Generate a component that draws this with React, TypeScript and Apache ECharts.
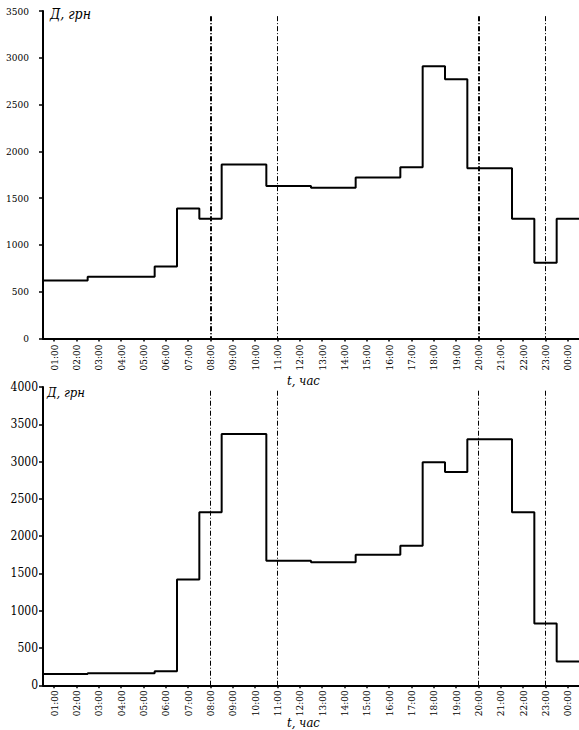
import React, { useEffect, useRef } from "react";
import * as echarts from "echarts";

const hours = [
  "01:00", "02:00", "03:00", "04:00", "05:00", "06:00", "07:00", "08:00",
  "09:00", "10:00", "11:00", "12:00", "13:00", "14:00", "15:00", "16:00",
  "17:00", "18:00", "19:00", "20:00", "21:00", "22:00", "23:00", "00:00",
];

const topValues = [
  620, 620, 660, 660, 660, 770, 1390, 1280, 1860, 1860, 1630, 1630,
  1610, 1610, 1720, 1720, 1830, 2910, 2770, 1820, 1820, 1280, 810, 1280,
];

const bottomValues = [
  150, 150, 160, 160, 160, 190, 1420, 2320, 3370, 3370, 1670, 1670,
  1650, 1650, 1750, 1750, 1870, 2990, 2860, 3300, 3300, 2320, 830, 320,
];

const topMarkers = ["08:00", "11:00", "20:00", "23:00"];
const topMarkerWidths = [2, 1, 2, 1];
const topMarkerEnd = 3445;
const bottomMarkers = ["08:00", "11:00", "20:00", "23:00"];
const bottomMarkerEnd = 3950;

const topYMax = 3500;
const bottomYMax = 4000;
const yInterval = 500;

const FONT = "DejaVu Serif Condensed";

function stepData(values: number[]) {
  const out: number[][] = [];
  values.forEach((v, i) => {
    out.push([i, v]);
    out.push([i + 1, v]);
  });
  return out;
}

function markerLines(markers: string[], widths: number[], end: number) {
  return markers.map((h, k) => {
    const c = hours.indexOf(h) + 0.5;
    return [
      { coord: [c, end], lineStyle: { width: widths[k] } },
      { coord: [c, 0] },
    ];
  });
}

export default function App() {
  const ref = useRef<HTMLDivElement>(null);
  useEffect(() => {
    if (!ref.current) return;
    const chart = echarts.init(ref.current, undefined, { renderer: "svg" });
    const catAxis = (gridIndex: number, margin: number) => ({
      type: "category",
      gridIndex,
      data: hours,
      boundaryGap: true,
      axisLine: { show: true, onZero: false, lineStyle: { color: "#000", width: 2 } },
      axisTick: { show: true, alignWithLabel: true, interval: 0, length: 3, lineStyle: { color: "#000", width: 1.5 } },
      axisLabel: {
        interval: 0,
        rotate: 90,
        margin,
        color: "#000",
        fontFamily: FONT,
        fontSize: 10,
      },
      splitLine: { show: false },
    });
    const valXAxis = (gridIndex: number) => ({
      type: "value",
      gridIndex,
      min: 0,
      max: 24,
      show: false,
    });
    const yAxis = (gridIndex: number, max: number, fontSize: number, margin: number) => ({
      type: "value",
      gridIndex,
      min: 0,
      max,
      interval: yInterval,
      axisLine: { show: true, lineStyle: { color: "#000", width: 2 } },
      axisTick: { show: true, length: 4, lineStyle: { color: "#000", width: 1.5 } },
      axisLabel: {
        color: "#000",
        fontFamily: FONT,
        fontSize,
        margin,
        formatter: (v: number) => String(v),
      },
      splitLine: { show: false },
    });
    const markLineBase = {
      silent: true,
      symbol: ["none", "none"],
      label: { show: false },
      lineStyle: { color: "#000", type: [5, 2, 1, 2], width: 1 },
    };
    chart.setOption({
      animation: false,
      backgroundColor: "#fff",
      textStyle: { fontFamily: FONT },
      grid: [
        { left: 43, top: 11, width: 541.7, height: 327.5 },
        { left: 43, top: 387, width: 540, height: 298.3 },
      ],
      xAxis: [catAxis(0, 6), valXAxis(0), catAxis(1, 5), valXAxis(1)],
      yAxis: [yAxis(0, topYMax, 10, 14), yAxis(1, bottomYMax, 12, 5)],
      series: [
        {
          type: "line",
          xAxisIndex: 1,
          yAxisIndex: 0,
          data: stepData(topValues),
          symbol: "none",
          lineStyle: { color: "#000", width: 2 },
          markLine: {
            ...markLineBase,
            data: markerLines(topMarkers, topMarkerWidths, topMarkerEnd),
          },
        },
        {
          type: "line",
          xAxisIndex: 3,
          yAxisIndex: 1,
          data: stepData(bottomValues),
          symbol: "none",
          lineStyle: { color: "#000", width: 2 },
          markLine: {
            ...markLineBase,
            data: markerLines(bottomMarkers, [1, 1, 1, 1], bottomMarkerEnd),
          },
        },
      ],
      graphic: [
        {
          type: "text",
          left: 50,
          top: 7,
          style: { text: "Д, грн", fontFamily: FONT, fontStyle: "italic", fontSize: 14, fill: "#000" },
        },
        {
          type: "text",
          left: 287,
          top: 374,
          style: { text: "t, час", fontFamily: FONT, fontStyle: "italic", fontSize: 13, fill: "#000" },
        },
        {
          type: "text",
          left: 47,
          top: 386,
          style: { text: "Д, грн", fontFamily: FONT, fontStyle: "italic", fontSize: 13, fill: "#000" },
        },
        {
          type: "text",
          left: 287,
          top: 716,
          style: { text: "t, час", fontFamily: FONT, fontStyle: "italic", fontSize: 13, fill: "#000" },
        },
      ],
    });
    return () => chart.dispose();
  }, []);
  return (
    <div
      ref={ref}
      style={{ position: "fixed", left: 0, top: 0, width: 579, height: 730, background: "#fff" }}
    />
  );
}
